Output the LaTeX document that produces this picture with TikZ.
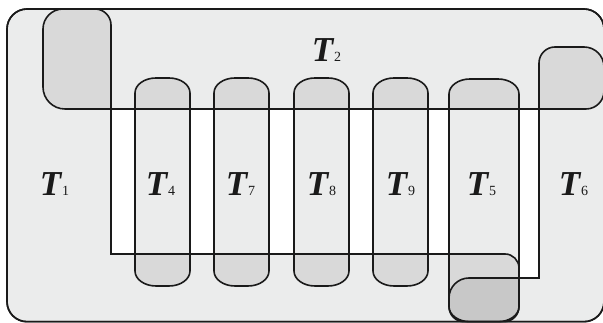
\documentclass[tikz,border=0pt]{standalone}
\usepackage{fontspec}
\setmainfont{Liberation Serif}
\begin{document}
\begin{tikzpicture}[x=1pt,y=1pt,line width=1.6pt]
\definecolor{lg}{HTML}{EBECEC}
\definecolor{mg}{HTML}{D9D9D9}
\definecolor{dg}{HTML}{C8C8C8}
\definecolor{ln}{HTML}{1A1A1A}
\tikzset{lbl/.style={inner sep=0pt,anchor=base west,text=ln}}
\newcommand\lab[1]{{\fontsize{35}{35}\selectfont\bfseries\itshape T}\hspace{1pt}{\fontsize{14}{14}\selectfont #1}}
% pill: #1 left, #2 right, #3 bottom, #4 top
\newcommand\pillp[4]{(#1,#3+15) -- (#1,#4-15) arc[start angle=180,end angle=90,x radius=21pt,y radius=15pt] -- (#2-21,#4) arc[start angle=90,end angle=0,x radius=21pt,y radius=15pt] -- (#2,#3+15) arc[start angle=0,end angle=-90,x radius=21pt,y radius=15pt] -- (#1+21,#3) arc[start angle=270,end angle=180,x radius=21pt,y radius=15pt] -- cycle}
\def\pTone{(7,21.3) -- (7,294) arc[start angle=180,end angle=90,radius=20pt] -- (95,314) arc[start angle=90,end angle=0,radius=16pt] -- (111,69) -- (505,69) arc[start angle=90,end angle=0,radius=14pt] -- (519,16.3) arc[start angle=0,end angle=-90,radius=15pt] -- (27,1.3) arc[start angle=270,end angle=180,radius=20pt] -- cycle}
\def\pTtwo{(43,236) -- (43,294) arc[start angle=180,end angle=90,radius=20pt] -- (584,314) arc[start angle=90,end angle=0,radius=20pt] -- (604,232) arc[start angle=0,end angle=-90,radius=18pt] -- (65,214) arc[start angle=270,end angle=180,radius=22pt] -- cycle}
\def\pTsix{(539,260) arc[start angle=180,end angle=90,radius=16pt] -- (584,276) arc[start angle=90,end angle=0,radius=20pt] -- (604,21.3) arc[start angle=0,end angle=-90,radius=20pt] -- (464,1.3) arc[start angle=270,end angle=180,radius=15pt] -- (449,25) arc[start angle=180,end angle=90,radius=20pt] -- (539,45) -- cycle}
\def\pWhite{(111,214) -- (539,214) -- (539,45) -- (519,45) -- (519,55) arc[start angle=0,end angle=90,radius=14pt] -- (111,69) -- cycle}
\useasboundingbox (0,0) rectangle (603,323);
% background
\fill[lg,rounded corners=20pt] (7,1.3) rectangle (604,314);
\begin{scope}\clip \pTone; \fill[mg] \pTtwo; \end{scope}
\begin{scope}\clip \pTtwo; \fill[mg] \pTsix; \end{scope}
\fill[white] \pWhite;
% pills
\foreach \a/\b in {135/190,214/269,294/349,373/428}{
  \fill[mg] \pillp{\a}{\b}{37}{245};
  \begin{scope}\clip \pWhite; \fill[lg] \pillp{\a}{\b}{37}{245}; \end{scope}
}
\fill[mg] \pillp{449}{519}{1.3}{244};
\begin{scope}\clip \pWhite; \fill[lg] \pillp{449}{519}{1.3}{244}; \end{scope}
\begin{scope}\clip \pTsix; \fill[dg] \pillp{449}{519}{1.3}{244}; \end{scope}
% outlines
\draw[ln,rounded corners=20pt] (7,1.3) rectangle (604,314);
\draw[ln] \pTone;
\draw[ln] \pTtwo;
\draw[ln] \pTsix;
\foreach \a/\b in {135/190,214/269,294/349,373/428}{
  \draw[ln] \pillp{\a}{\b}{37}{245};
}
\draw[ln] \pillp{449}{519}{1.3}{244};
% labels
\node[lbl] (t1) at (39,127) {\lab{1}};
\node[lbl] (t2) at (311,261) {\lab{2}};
\node[lbl] (t4) at (145,127) {\lab{4}};
\node[lbl] (t7) at (225,127) {\lab{7}};
\node[lbl] (t8) at (306,127) {\lab{8}};
\node[lbl] (t9) at (385,127) {\lab{9}};
\node[lbl] (t5) at (466,127) {\lab{5}};
\node[lbl] (t6) at (558,127) {\lab{6}};
\end{tikzpicture}
\end{document}
